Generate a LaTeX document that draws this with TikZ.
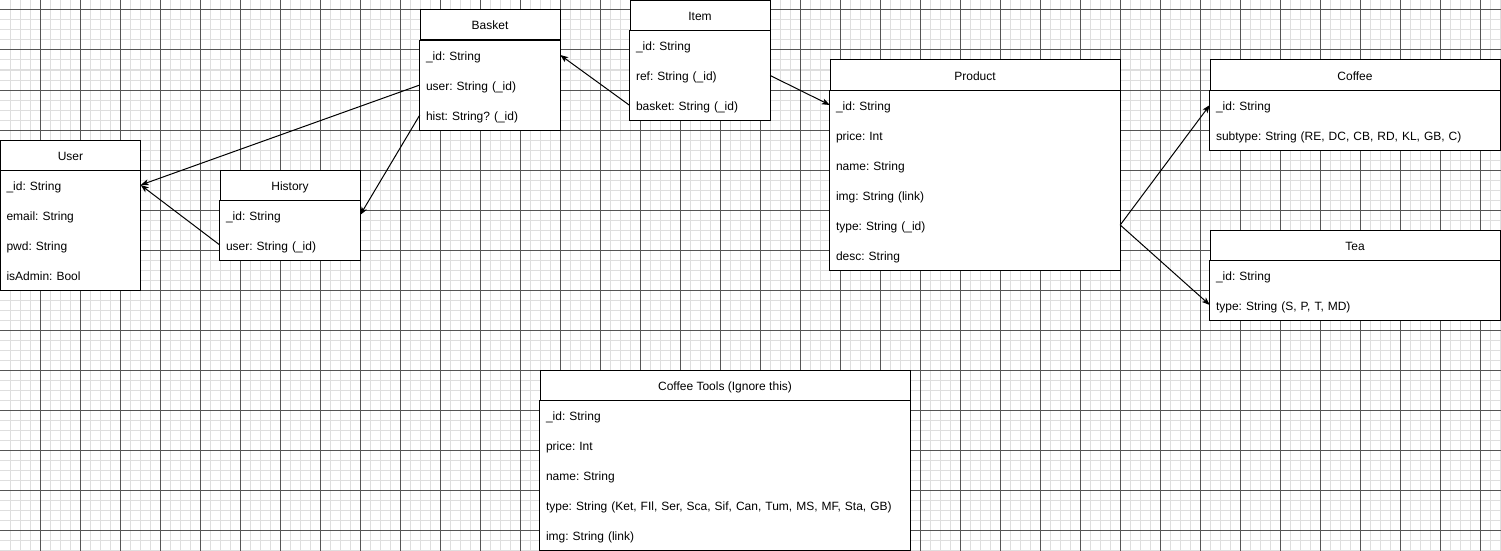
\documentclass[tikz,border=0pt]{standalone}
\usepackage{fontspec}
\setmainfont{Liberation Sans}
\usetikzlibrary{arrows.meta}
\frenchspacing
\definecolor{gridminor}{RGB}{222,222,222}
\definecolor{gridmajor}{RGB}{85,85,85}
\tikzstyle{minorline} = [draw=gridminor, line width=1pt]
\tikzstyle{majorline} = [draw=gridmajor, line width=1pt]
\tikzstyle{entity} = [rectangle, draw=black, fill=white, line width=1pt, minimum height=30pt, inner sep=0pt, text height=10pt, text depth=0pt, font=\fontsize{12}{14}\selectfont]
\tikzset{field/.style={rectangle, fill=white, text width=#1, align=left, minimum height=30pt, inner xsep=6pt, inner ysep=0pt, text height=10pt, text depth=0pt, font=\fontsize{12}{14}\selectfont}}
\tikzstyle{body} = [draw=black, line width=1pt]
\tikzstyle{arrow} = [line width=1pt, -{Stealth[length=8pt,width=6pt,inset=2pt]}, draw=black]

\begin{document}
\begin{tikzpicture}[x=1pt, y=-1pt, node distance=30pt]
  \useasboundingbox (0,0) rectangle (1501,551);
  % Draw grid
  \fill [white] (0,0) rectangle (1501,551);
  \foreach \x in {10,20,...,1500} \draw [minorline] (\x,0) -- (\x,551);
  \foreach \y in {0,10,...,550} \draw [minorline] (0,\y) -- (1501,\y);
  \foreach \x in {40,80,...,1480} \draw [majorline] (\x,0) -- (\x,551);
  \foreach \y in {10,50,...,530} \draw [majorline] (0,\y) -- (1501,\y);
  % Draw nodes
  \node (user)[entity, minimum width=140pt] at (70.5,155) {User};
  \node (user1)[field=128pt, below of=user] {\_id: String};
  \node (user2)[field=128pt, below of=user1] {email: String};
  \node (user3)[field=128pt, below of=user2] {pwd: String};
  \node (user4)[field=128pt, below of=user3] {isAdmin: Bool};
  \draw [body] (user.south west) rectangle (user4.south east);

  \node (hist)[entity, minimum width=140pt] at (290,185) {History};
  \node (hist1)[field=128pt, below of=hist] {\_id: String};
  \node (hist2)[field=128pt, below of=hist1] {user: String (\_id)};
  \draw [body] (hist.south west) rectangle (hist2.south east);

  \node (bask)[entity, minimum width=140pt] at (490,25) {Basket};
  \node (bask1)[field=128pt, below of=bask] {\_id: String};
  \node (bask2)[field=128pt, below of=bask1] {user: String (\_id)};
  \node (bask3)[field=128pt, below of=bask2] {hist: String? (\_id)};
  \draw [body] (bask.south west) rectangle (bask3.south east);

  \node (item)[entity, minimum width=140pt] at (700,15.5) {Item};
  \node (item1)[field=128pt, below of=item] {\_id: String};
  \node (item2)[field=128pt, below of=item1] {ref: String (\_id)};
  \node (item3)[field=128pt, below of=item2] {basket: String (\_id)};
  \draw [body] (item.south west) rectangle (item3.south east);

  \node (prod)[entity, minimum width=290pt] at (975,75) {Product};
  \node (prod1)[field=278pt, below of=prod] {\_id: String};
  \node (prod2)[field=278pt, below of=prod1] {price: Int};
  \node (prod3)[field=278pt, below of=prod2] {name: String};
  \node (prod4)[field=278pt, below of=prod3] {img: String (link)};
  \node (prod5)[field=278pt, below of=prod4] {type: String (\_id)};
  \node (prod6)[field=278pt, below of=prod5] {desc: String};
  \draw [body] (prod.south west) rectangle (prod6.south east);

  \node (coff)[entity, minimum width=290pt] at (1355,75) {Coffee};
  \node (coff1)[field=278pt, below of=coff] {\_id: String};
  \node (coff2)[field=278pt, below of=coff1] {subtype: String (RE, DC, CB, RD, KL, GB, C)};
  \draw [body] (coff.south west) rectangle (coff2.south east);

  \node (tea)[entity, minimum width=290pt] at (1355,245) {Tea};
  \node (tea1)[field=278pt, below of=tea] {\_id: String};
  \node (tea2)[field=278pt, below of=tea1] {type: String (S, P, T, MD)};
  \draw [body] (tea.south west) rectangle (tea2.south east);

  \node (tool)[entity, minimum width=370pt] at (725,385) {Coffee Tools (Ignore this)};
  \node (tool1)[field=358pt, below of=tool] {\_id: String};
  \node (tool2)[field=358pt, below of=tool1] {price: Int};
  \node (tool3)[field=358pt, below of=tool2] {name: String};
  \node (tool4)[field=358pt, below of=tool3] {type: String (Ket, FIl, Ser, Sca, Sif, Can, Tum, MS, MF, Sta, GB)};
  \node (tool5)[field=358pt, below of=tool4] {img: String (link)};
  \draw [body] (tool.south west) rectangle (tool5.south east);
  % Draw arrows
  \draw [arrow] (bask2.west) -- (user1.east);
  \draw [arrow] (hist2.west) -- (user1.east);
  \draw [arrow] (bask3.west) -- (hist1.east);
  \draw [arrow] (item3.west) -- (bask1.east);
  \draw [arrow] (item2.east) -- (prod1.west);
  \draw [arrow] (prod5.east) -- (coff1.west);
  \draw [arrow] (prod5.east) -- (tea2.west);
\end{tikzpicture}
\end{document}
